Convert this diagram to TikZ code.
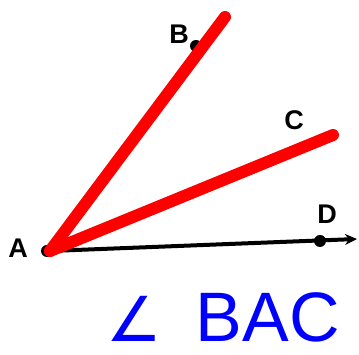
\documentclass[tikz,border=0pt]{standalone}
\usepackage{fontspec}
\setmainfont{Liberation Sans}
\newfontfamily\symfont{DejaVu Sans}
\usetikzlibrary{arrows.meta,positioning}

\begin{document}
\begin{tikzpicture}[
  x=1pt, y=1pt,
  pt/.style={circle, fill=black, inner sep=0pt, minimum size=12pt},
  lbl/.style={font=\bfseries\fontsize{27}{27}\selectfont},
  ray/.style={line width=12pt, red, line cap=round},
  >=Stealth
]
\useasboundingbox (0,0) rectangle (359,355);

% points
\coordinate (A) at (50,104);
\coordinate (Bend) at (225,338);
\coordinate (Cend) at (333,220);
\coordinate (Tip) at (357,116);
\node[pt] (Ad) at (47,104) {};
\node[pt] (Bd) at (196,309) {};
\node[pt] (Dd) at (320,114) {};

% labels
\node[lbl] (LA) at (18,107) {A};
\node[lbl] (LB) at (179,321) {B};
\node[lbl] (LC) at (294,235) {C};
\node[lbl] (LD) at (327,141) {D};

% ray AD
\draw[line width=4pt, -{Stealth[length=12pt,width=11pt]}] (A) -- (Tip);

% the angle
\draw[ray] (A) -- (Bend);
\draw[ray] (A) -- (Cend);

% name of the angle
\node[blue, anchor=base west, inner sep=0pt, font=\fontsize{70}{70}\selectfont] (name) at (106,13)
  {{\symfont\fontsize{62}{62}\selectfont ∠}\hspace{34pt}BAC};
\end{tikzpicture}
\end{document}
